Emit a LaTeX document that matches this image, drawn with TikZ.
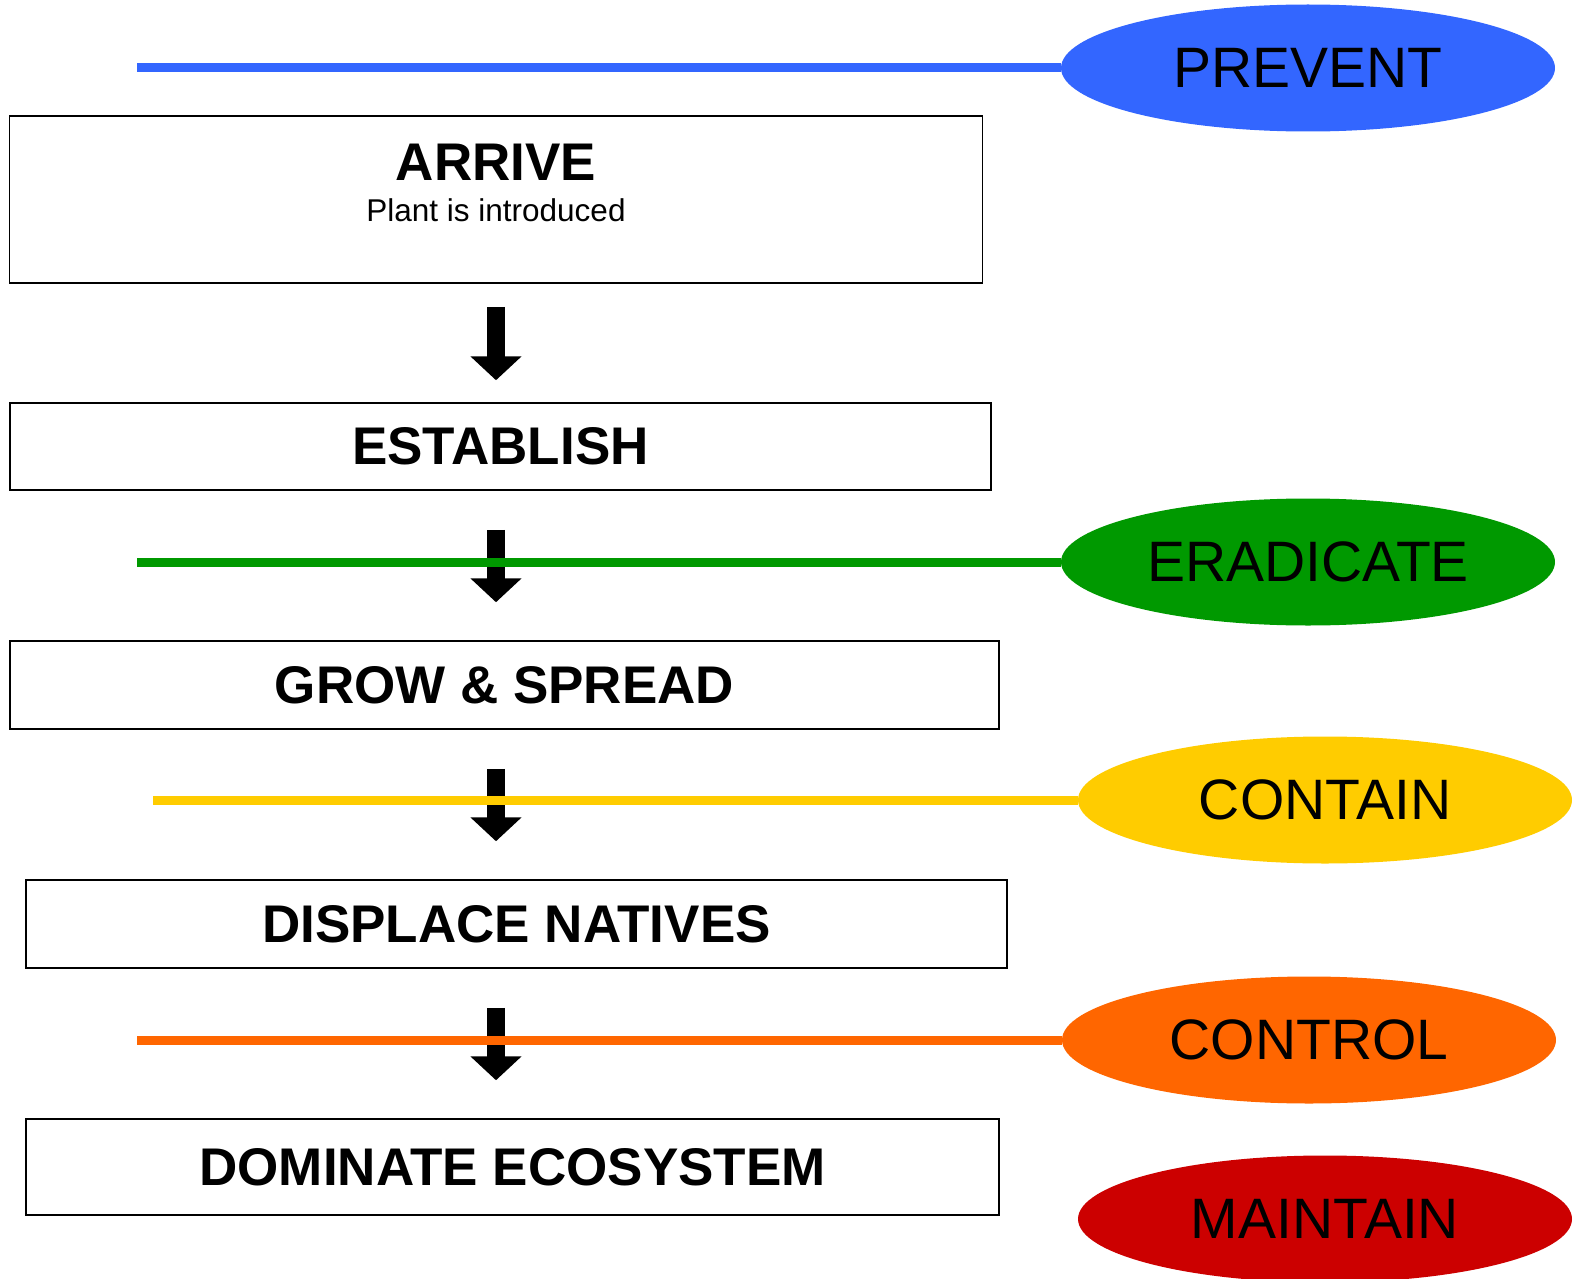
\documentclass[tikz,border=0pt]{standalone}
\usepackage{fontspec}
\setmainfont{Liberation Sans}
\usetikzlibrary{arrows.meta,positioning,shapes.geometric}
\definecolor{prevblue}{HTML}{3366FF}
\definecolor{eradgreen}{HTML}{009900}
\definecolor{contyellow}{HTML}{FFCC00}
\definecolor{ctrlorange}{HTML}{FF6600}
\definecolor{maintred}{HTML}{CC0000}

\begin{document}
\begin{tikzpicture}[x=1pt,y=-1pt,
  stage/.style={draw=black,line width=1.5,minimum height=88,inner sep=0,
    font=\fontsize{53}{60}\selectfont\bfseries},
  action/.style={ellipse,fill=#1,minimum width=494,minimum height=127,inner sep=0,
    font=\fontsize{57}{60}\selectfont},
  blockarrow/.style={line width=18,-{Triangle[width=50,length=24]}},
  rung/.style={draw=#1,line width=9}]
\useasboundingbox (0,0) rectangle (1575,1279);
\clip (0,0) rectangle (1575,1279);

% stages of the invasion
\node[stage,minimum width=973,minimum height=167] (arrive) at (496,199.5) {};
\node[anchor=base,font=\fontsize{53}{60}\selectfont\bfseries] (arrivetitle) at (496,180) {ARRIVE};
\node[anchor=base,font=\fontsize{31.5}{36}\selectfont] (arrivesub) at (496,221) {Plant is introduced};
\node[stage,minimum width=981,minimum height=87] (establish) at (500.5,446.5) {ESTABLISH};
\node[stage,minimum width=989] (grow) at (504.5,685) {GROW \& SPREAD};
\node[stage,minimum width=981] (displace) at (516.5,924) {DISPLACE NATIVES};
\node[stage,minimum width=973,minimum height=96] (dominate) at (512.5,1167) {DOMINATE ECOSYSTEM};

% arrows between the stages
\coordinate (ax) at (496,0);
\draw[blockarrow,shorten <=23,shorten >=22] (arrive.south -| ax) -- (establish.north -| ax);
\foreach \a/\b in {establish/grow,grow/displace,displace/dominate}
  \draw[blockarrow,shorten <=39,shorten >=38] (\a.south -| ax) -- (\b.north -| ax);

% management actions
\node[action=prevblue] (prevent) at (1308,68) {PREVENT};
\node[action=eradgreen] (eradicate) at (1308,562) {ERADICATE};
\node[action=contyellow] (contain) at (1325,800) {CONTAIN};
\node[action=ctrlorange] (control) at (1309,1040) {CONTROL};
\node[action=maintred] (maintain) at (1325,1219) {MAINTAIN};

\foreach \act/\col/\xs in {prevent/prevblue/137,eradicate/eradgreen/137,
    contain/contyellow/153,control/ctrlorange/137}{
  \coordinate (\act start) at (\xs,0);
  \draw[rung=\col] (\act start |- \act.west) -- (\act.west);
}
\end{tikzpicture}
\end{document}
